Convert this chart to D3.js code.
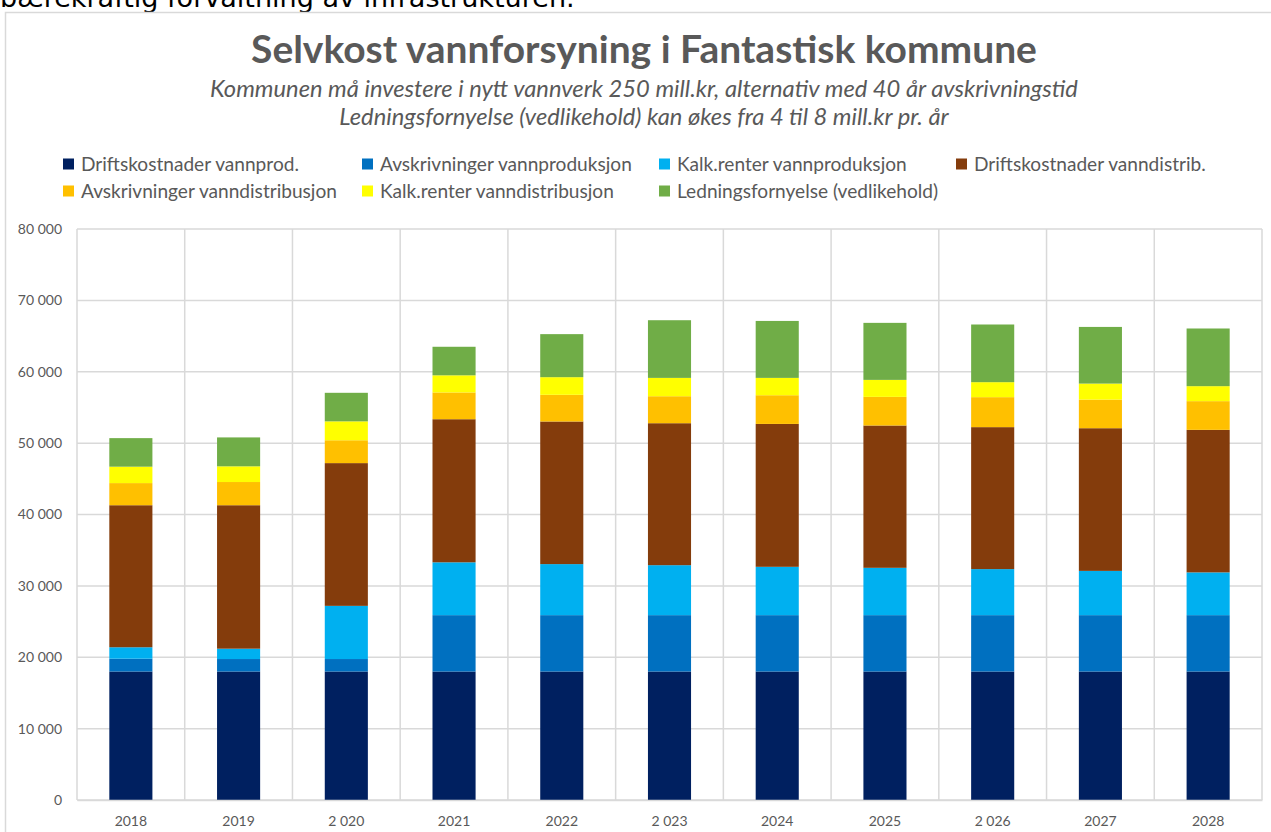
<!DOCTYPE html>
<html>
<head>
<meta charset="utf-8">
<script src="https://cdn.jsdelivr.net/npm/d3@7"></script>
<style>
  body { margin: 0; background: #fff; }
  svg { display: block; }
</style>
</head>
<body>
<div id="chart"></div>
<script>
// Chart data (thousand kr)
const years = ["2018", "2019", "2 020", "2021", "2022", "2 023", "2024", "2025", "2 026", "2027", "2028"];
const seriesNames = [
  "Driftskostnader vannprod.",
  "Avskrivninger vannproduksjon",
  "Kalk.renter vannproduksjon",
  "Driftskostnader vanndistrib.",
  "Avskrivninger vanndistribusjon",
  "Kalk.renter vanndistribusjon",
  "Ledningsfornyelse (vedlikehold)"
];
const driftProd   = [18000, 18000, 18000, 18000, 18000, 18000, 18000, 18000, 18000, 18000, 18000];
const avskrProd   = [1800, 1750, 1750, 7900, 7900, 7900, 7900, 7900, 7900, 7900, 7900];
const renterProd  = [1600, 1450, 7450, 7400, 7150, 7000, 6770, 6630, 6450, 6200, 5990];
const driftDistr  = [19900, 20100, 20000, 20050, 19980, 19890, 20020, 19940, 19890, 19990, 19970];
const avskrDistr  = [3100, 3250, 3200, 3750, 3740, 3780, 4020, 4010, 4200, 4010, 4020];
const renterDistr = [2300, 2200, 2650, 2400, 2470, 2570, 2430, 2380, 2100, 2240, 2100];
const ledning     = [4000, 4050, 4000, 4000, 6030, 8080, 7980, 7990, 8080, 7940, 8080];
const yTicks = [0, 10000, 20000, 30000, 40000, 50000, 60000, 70000, 80000];

const titleText = "Selvkost vannforsyning i Fantastisk kommune";
const subtitle1 = "Kommunen må investere i nytt vannverk 250 mill.kr, alternativ med 40 år avskrivningstid";
const subtitle2 = "Ledningsfornyelse (vedlikehold) kan økes fra 4 til 8 mill.kr pr. år";
const aboveText = "bærekraftig forvaltning av infrastrukturen.";

const colors = ["#002060", "#0070C0", "#00B0F0", "#843C0C", "#FFC000", "#FFFF00", "#70AD47"];
const textColor = "#595959";
const gridColor = "#d9d9d9";
const font = "Lato, 'Open Sans', sans-serif";

const width = 1271, height = 832;
const plot = { left: 77, right: 1262, top: 229, bottom: 800 };

const svg = d3.select("#chart").append("svg")
  .attr("width", width)
  .attr("height", height);

// scale font so a text fits a given width
function fitWidth(sel, target) {
  const w = sel.node().getComputedTextLength();
  const fs = parseFloat(sel.attr("font-size"));
  sel.attr("font-size", fs * target / w);
}

// Text of the document above the chart (cut off at the top)
svg.append("text")
  .attr("x", 0)
  .attr("y", 7)
  .attr("font-family", "'DejaVu Sans', sans-serif")
  .attr("font-size", 20)
  .attr("fill", "#000")
  .text(aboveText)
  .call(fitWidth, 575);

// Chart frame
svg.append("rect")
  .attr("x", 5.5)
  .attr("y", 12.5)
  .attr("width", width + 20)
  .attr("height", height + 20)
  .attr("fill", "#fff")
  .attr("stroke", gridColor)
  .attr("stroke-width", 1.5);

// Title and subtitles
const centerX = 644;
svg.append("text")
  .attr("x", centerX).attr("y", 63)
  .attr("text-anchor", "middle")
  .attr("font-family", font)
  .attr("font-weight", 700)
  .attr("font-size", 34)
  .attr("fill", textColor)
  .text(titleText)
  .call(fitWidth, 786);

const sub1 = svg.append("text")
  .attr("x", centerX).attr("y", 97)
  .attr("text-anchor", "middle")
  .attr("font-family", font)
  .attr("font-style", "italic")
  .attr("font-size", 19)
  .attr("fill", textColor)
  .text(subtitle1)
  .call(fitWidth, 868);

svg.append("text")
  .attr("x", centerX).attr("y", 125)
  .attr("text-anchor", "middle")
  .attr("font-family", font)
  .attr("font-style", "italic")
  .attr("font-size", sub1.attr("font-size"))
  .attr("fill", textColor)
  .text(subtitle2);

// Legend (4 columns, 2 rows)
const legendCols = [63, 362, 659, 956];
const legendRows = [164, 191];
const legend = svg.selectAll(".legend")
  .data(seriesNames)
  .enter()
  .append("g")
  .attr("class", "legend")
  .attr("transform", (d, i) => `translate(${legendCols[i % 4]}, ${legendRows[Math.floor(i / 4)]})`);

legend.append("rect")
  .attr("x", 0)
  .attr("y", -5.5)
  .attr("width", 11)
  .attr("height", 11)
  .attr("fill", (d, i) => colors[i]);

const legendText = legend.append("text")
  .attr("x", 18)
  .attr("dy", "0.35em")
  .attr("font-family", font)
  .attr("font-size", 17)
  .attr("fill", textColor)
  .text(d => d);

// match legend size to the first item's width
const firstW = legendText.nodes()[0].getComputedTextLength();
legendText.attr("font-size", 17 * 218 / firstW);

// Scales
const x = d3.scaleBand()
  .domain(years)
  .range([plot.left, plot.right])
  .paddingInner(0.6)
  .paddingOuter(0.3);

const y = d3.scaleLinear()
  .domain([0, 80000])
  .range([plot.bottom, plot.top]);

const fmt = d3.formatLocale({ decimal: ",", thousands: " ", grouping: [3], currency: ["", ""] }).format(",d");

// Gridlines
svg.append("g")
  .attr("class", "grid")
  .selectAll("line")
  .data(yTicks)
  .enter()
  .append("line")
  .attr("x1", plot.left).attr("x2", plot.right)
  .attr("y1", d => y(d)).attr("y2", d => y(d))
  .attr("stroke", gridColor)
  .attr("stroke-width", 1.5);

const step = x.step();
const bounds = years.map(d => x(d) - step * 0.3).concat([plot.right]);
svg.append("g")
  .attr("class", "vgrid")
  .selectAll("line")
  .data(bounds)
  .enter()
  .append("line")
  .attr("x1", d => d).attr("x2", d => d)
  .attr("y1", plot.top).attr("y2", plot.bottom)
  .attr("stroke", gridColor)
  .attr("stroke-width", 1.5);

// Stacked bars
const rows = years.map((yr, i) => ({
  year: yr,
  s0: driftProd[i], s1: avskrProd[i], s2: renterProd[i], s3: driftDistr[i],
  s4: avskrDistr[i], s5: renterDistr[i], s6: ledning[i]
}));
const keys = ["s0", "s1", "s2", "s3", "s4", "s5", "s6"];
const stacked = d3.stack().keys(keys)(rows);

svg.append("g")
  .selectAll("g")
  .data(stacked)
  .enter()
  .append("g")
  .attr("fill", (d, i) => colors[i])
  .selectAll("rect")
  .data(d => d)
  .enter()
  .append("rect")
  .attr("x", d => x(d.data.year))
  .attr("y", d => y(d[1]))
  .attr("width", x.bandwidth())
  .attr("height", d => y(d[0]) - y(d[1]));

// Y axis
const yAxis = svg.append("g")
  .attr("transform", `translate(${plot.left - 15}, 0)`)
  .call(d3.axisLeft(y).tickValues(yTicks).tickFormat(fmt).tickSize(0).tickPadding(0));
yAxis.select(".domain").remove();
yAxis.selectAll("text")
  .attr("font-family", font)
  .attr("font-size", 14)
  .attr("fill", textColor);

// X axis
const xAxis = svg.append("g")
  .attr("transform", `translate(0, ${plot.bottom})`)
  .call(d3.axisBottom(x).tickSize(0).tickPadding(16));
xAxis.select(".domain")
  .attr("stroke", gridColor)
  .attr("stroke-width", 1.5);
xAxis.selectAll("text")
  .attr("font-family", font)
  .attr("font-size", 14)
  .attr("fill", textColor);
</script>
</body>
</html>
